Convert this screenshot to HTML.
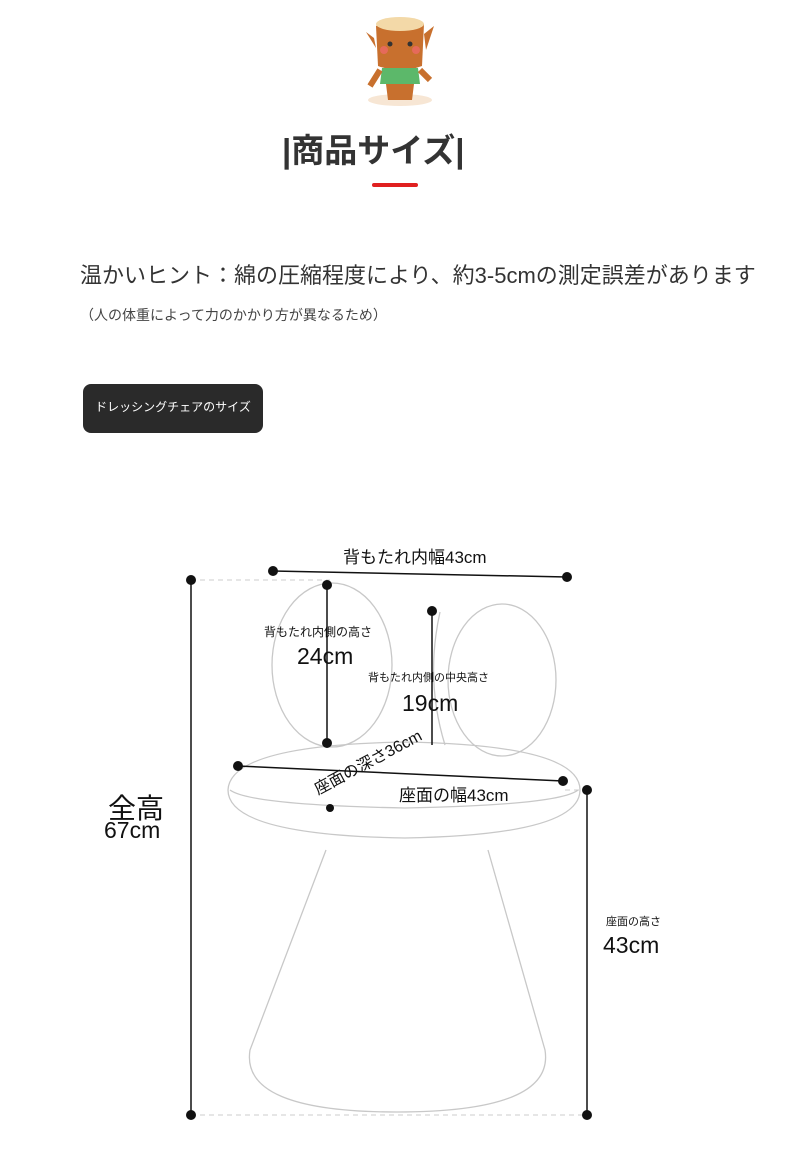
<!DOCTYPE html>
<html><head><meta charset="utf-8"><style>
body{margin:0;width:790px;height:1169px;background:#fff;position:relative;overflow:hidden;font-family:"Liberation Sans","Noto Sans CJK JP",sans-serif;color:#222}
.a{position:absolute;white-space:nowrap}
</style></head><body>
<svg class="a" style="left:360px;top:8px" width="80" height="100" viewBox="0 0 80 100">
<ellipse cx="40" cy="92" rx="32" ry="6" fill="#f7e6d4"/>
<path d="M16 18 Q40 8 64 16 L62 58 Q40 66 18 58 Z" fill="#c8702e"/>
<ellipse cx="40" cy="16" rx="24" ry="7" fill="#f3d9a8"/>
<path d="M14 30 L6 24 L16 40Z M64 26 L74 18 L66 42Z" fill="#c8702e"/>
<circle cx="30" cy="36" r="2.5" fill="#333"/><circle cx="50" cy="36" r="2.5" fill="#333"/>
<circle cx="24" cy="42" r="4" fill="#e56a5a"/><circle cx="56" cy="42" r="4" fill="#e56a5a"/>
<path d="M22 60 L58 60 L60 76 L20 76Z" fill="#5cb86a"/>
<path d="M26 76 L54 76 L52 92 L28 92Z" fill="#c8702e"/>
<path d="M20 62 L10 78 M60 62 L70 72" stroke="#c8702e" stroke-width="6"/>
</svg>
<div class="a" style="left:282px;top:124px;font-size:33px;font-weight:bold;color:#333">|商品サイズ|</div>
<div class="a" style="left:372px;top:183px;width:46px;height:4px;background:#e02020;border-radius:2px"></div>
<div class="a" style="left:80px;top:258px;font-size:22px;color:#333">温かいヒント：綿の圧縮程度により、約3-5cmの測定誤差があります</div>
<div class="a" style="left:80px;top:305px;font-size:14px;color:#444">（人の体重によって力のかかり方が異なるため）</div>
<div class="a" style="left:83px;top:384px;width:180px;height:49px;background:#2a2a2a;border-radius:8px;color:#fff;font-size:12px;line-height:46px;text-align:center">ドレッシングチェアのサイズ</div>
<svg class="a" style="left:0;top:0" width="790" height="1169">
<g fill="none" stroke="#c8c8c8" stroke-width="1.3">
<ellipse cx="332" cy="665" rx="60" ry="82"/>
<ellipse cx="502" cy="680" rx="54" ry="76"/>
<path d="M440 612 Q425 680 445 745"/>
<path d="M228 790 Q230 745 405 742 Q580 745 580 790 Q580 835 405 838 Q228 835 228 790Z"/>
<path d="M230 790 Q250 805 405 808 Q560 805 578 790"/>
<path d="M326 850 L250 1050 Q240 1112 397 1112 Q555 1112 545 1050 L488 850"/>
</g>
<g stroke="#ccc" stroke-dasharray="5,4" stroke-width="1">
<line x1="191" y1="580" x2="330" y2="580"/><line x1="191" y1="1115" x2="587" y2="1115"/><line x1="565" y1="790" x2="587" y2="790"/>
</g>
<g stroke="#111" stroke-width="1.5">
<line x1="191" y1="580" x2="191" y2="1115"/><line x1="587" y1="790" x2="587" y2="1115"/>
<line x1="273" y1="571" x2="567" y2="577"/><line x1="327" y1="585" x2="327" y2="743"/>
<line x1="432" y1="611" x2="432" y2="745"/><line x1="238" y1="766" x2="563" y2="781"/>
</g>
<g fill="#111">
<circle cx="191" cy="580" r="5"/><circle cx="191" cy="1115" r="5"/><circle cx="587" cy="790" r="5"/><circle cx="587" cy="1115" r="5"/>
<circle cx="273" cy="571" r="5"/><circle cx="567" cy="577" r="5"/><circle cx="327" cy="585" r="5"/><circle cx="327" cy="743" r="5"/>
<circle cx="432" cy="611" r="5"/><circle cx="238" cy="766" r="5"/><circle cx="563" cy="781" r="5"/><circle cx="330" cy="808" r="4"/>
</g>
<g font-family="Liberation Sans, Noto Sans CJK JP, sans-serif" fill="#111">
<text x="343" y="563" font-size="17">背もたれ内幅43cm</text>
<text x="264" y="636" font-size="12">背もたれ内側の高さ</text>
<text x="297" y="664" font-size="23">24cm</text>
<text x="368" y="681" font-size="11">背もたれ内側の中央高さ</text>
<text x="402" y="711" font-size="23">19cm</text>
<text x="318" y="795" font-size="16" transform="rotate(-28 318 795)">座面の深さ36cm</text>
<text x="399" y="801" font-size="17">座面の幅43cm</text>
<text x="108" y="818" font-size="28">全高</text>
<text x="104" y="838" font-size="23">67cm</text>
<text x="606" y="925" font-size="11">座面の高さ</text>
<text x="603" y="953" font-size="23">43cm</text>
</g>
</svg>
</body></html>
